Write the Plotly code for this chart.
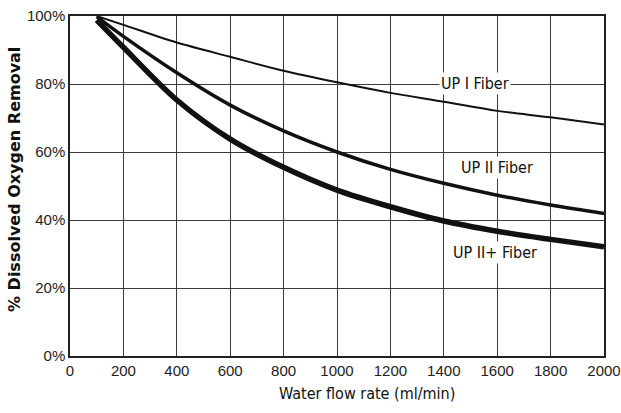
import plotly.graph_objects as go

x_up1 = [100, 200, 400, 600, 800, 1000, 1200, 1400, 1600, 1800, 2000]
y_up1 = [100, 97.4, 92.2, 88.0, 83.9, 80.5, 77.4, 74.8, 72.1, 70.2, 68.1]

x_up2 = [100, 200, 400, 600, 800, 1000, 1200, 1400, 1600, 1800, 2000]
y_up2 = [99.8, 94.0, 83.3, 73.8, 66.2, 60.0, 54.9, 50.8, 47.3, 44.4, 41.9]

x_up2p = [100, 200, 400, 600, 800, 1000, 1200, 1400, 1600, 1800, 2000]
y_up2p = [98.8, 90.8, 75.3, 63.8, 55.5, 48.8, 43.9, 39.7, 36.7, 34.3, 32.1]

labels = ["UP I Fiber", "UP II Fiber", "UP II+ Fiber"]
label_x = [1517, 1600, 1590]
label_y = [80.3, 55.5, 30.4]

x_ticks = list(range(0, 2001, 200))
y_ticks = [0, 20, 40, 60, 80, 100]
y_tick_text = ["0%", "20%", "40%", "60%", "80%", "100%"]

cond_font = "DejaVu Sans Condensed, Liberation Sans Narrow, sans-serif"
tick_font = "Liberation Sans, Arial, Helvetica, sans-serif"

fig = go.Figure()
for xs, ys, w in [(x_up1, y_up1, 2), (x_up2, y_up2, 3.5), (x_up2p, y_up2p, 5.5)]:
    fig.add_trace(go.Scatter(x=xs, y=ys, mode="lines",
                             line=dict(color="#111111", width=w, shape="spline", smoothing=0.9),
                             showlegend=False, hoverinfo="skip", cliponaxis=False))

for t, lx, ly in zip(labels, label_x, label_y):
    fig.add_annotation(x=lx, y=ly, text=t, showarrow=False, bgcolor="white",
                       font=dict(family=cond_font, size=16, color="#111111"),
                       borderpad=1)

fig.add_annotation(xref="paper", yref="paper", x=(15 - 70) / 534, y=(356 - 180) / 340,
                   xanchor="center", yanchor="middle",
                   text="<b>% Dissolved Oxygen Removal</b>", textangle=-90, showarrow=False,
                   font=dict(family="DejaVu Sans, sans-serif", size=16, color="#111111"))
fig.add_annotation(xref="paper", yref="paper", x=(367 - 70) / 534, y=-(393 - 356) / 340,
                   xanchor="center", yanchor="middle",
                   text="Water flow rate (ml/min)", showarrow=False,
                   font=dict(family=cond_font, size=16, color="#111111"))

fig.update_layout(
    width=621, height=413,
    margin=dict(l=70, r=17, t=16, b=57),
    plot_bgcolor="white", paper_bgcolor="white",
    font=dict(family=tick_font, color="#222222"),
)
fig.update_xaxes(range=[0, 2000.01], tickvals=x_ticks, showgrid=True, gridcolor="#3a3a3a",
                 gridwidth=1, showline=True, linecolor="#222222", linewidth=1.5, mirror=True,
                 zeroline=False, ticks="", automargin=False,
                 tickfont=dict(size=15, family=tick_font, color="#222222"))
fig.update_yaxes(range=[0, 100.01], tickvals=y_ticks, ticktext=y_tick_text, showgrid=True,
                 gridcolor="#3a3a3a", gridwidth=1, showline=True, linecolor="#222222",
                 linewidth=1.5, mirror=True, zeroline=False, ticks="", automargin=False,
                 tickfont=dict(size=15, family=tick_font, color="#222222"))

fig.write_html("out.html", config={"displayModeBar": False},
               post_script="document.body.style.margin='0';")
